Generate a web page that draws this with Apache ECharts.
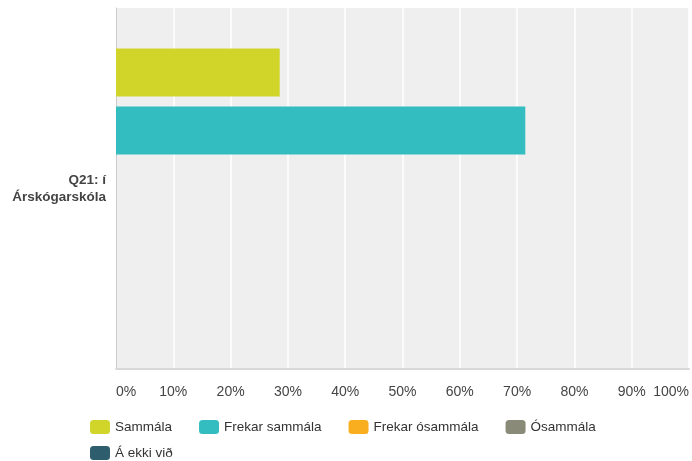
<!DOCTYPE html>
<html>
<head>
<meta charset="utf-8">
<script src="https://cdn.jsdelivr.net/npm/echarts@6/dist/echarts.min.js"></script>
<style>
  html, body { margin: 0; padding: 0; background: #fff; }
  #chart { width: 692px; height: 461px; }
</style>
</head>
<body>
<div id="chart"></div>
<script>
  const categories = ['Q21: í\nÁrskógarskóla'];
  const seriesNames = ['Sammála', 'Frekar sammála', 'Frekar ósammála', 'Ósammála', 'Á ekki við'];
  const seriesValues = [
    [28.57],
    [71.43],
    [0],
    [0],
    [0]
  ];
  const colors = ['#d1d52a', '#34bdc0', '#f8ae1f', '#8a8a78', '#2e5d6d'];

  let chart = echarts.init(document.getElementById('chart'));

  let series = seriesNames.map((name, i) => ({
    name: name,
    type: 'bar',
    data: seriesValues[i],
    barWidth: 48,
    barGap: '20.8%',
    itemStyle: { color: colors[i] }
  }));

  let legendBase = {
    icon: 'roundRect',
    itemWidth: 20,
    itemHeight: 14,
    itemGap: 27,
    orient: 'horizontal',
    padding: 0,
    textStyle: { color: '#333', fontSize: 13.5, fontFamily: 'Liberation Sans, Arial, sans-serif' }
  };

  let option = {
    color: colors,
    animation: false,
    textStyle: { fontFamily: 'Liberation Sans, Arial, sans-serif' },
    grid: {
      left: 116,
      right: 0,
      top: 8,
      bottom: 92,
      show: true,
      backgroundColor: '#efefef',
      borderWidth: 0
    },
    legend: [
      Object.assign({}, legendBase, { left: 90, top: 420, data: seriesNames.slice(0, 4) }),
      Object.assign({}, legendBase, { left: 90, top: 446, data: seriesNames.slice(4) })
    ],
    xAxis: {
      type: 'value',
      min: 0,
      max: 100,
      interval: 10,
      axisLine: { show: true, lineStyle: { color: '#d8d8d8', width: 2 } },
      axisTick: { show: false },
      axisLabel: {
        formatter: '{value}%',
        color: '#444',
        fontSize: 14,
        margin: 16,
        alignMinLabel: 'left',
        alignMaxLabel: 'right'
      },
      splitLine: { show: true, lineStyle: { color: '#ffffff', width: 1.5 } }
    },
    yAxis: {
      type: 'category',
      data: categories,
      inverse: true,
      axisLine: { show: true, lineStyle: { color: '#cccccc', width: 1 } },
      axisTick: { show: false },
      axisLabel: {
        color: '#444',
        fontSize: 13.5,
        fontWeight: 'bold',
        lineHeight: 17,
        margin: 10,
        align: 'right',
        padding: [4, 0, 0, 0]
      }
    },
    series: series
  };

  chart.setOption(option);
</script>
</body>
</html>
